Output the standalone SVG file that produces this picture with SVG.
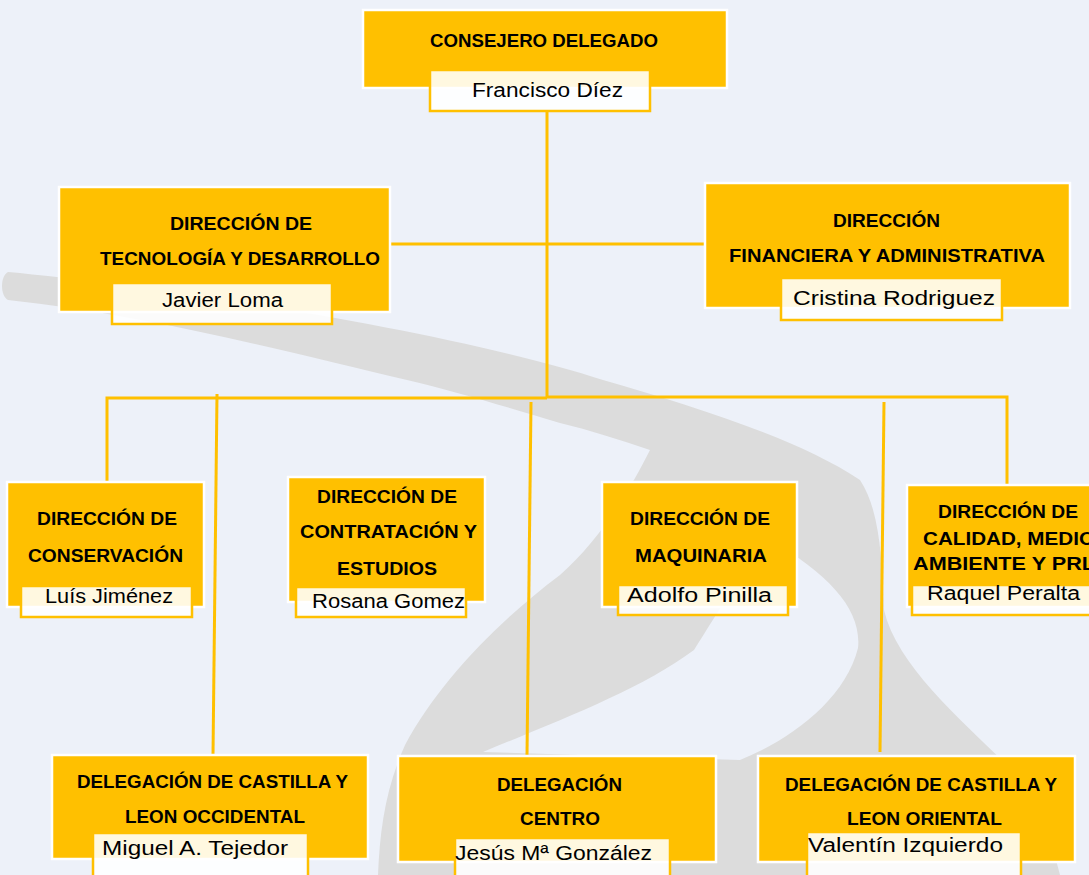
<svg xmlns="http://www.w3.org/2000/svg" width="1089" height="875" viewBox="0 0 1089 875">
<style>
.bg{fill:#EDF1F9}
.sw{fill:#DCDCDC;fill-rule:evenodd}
.box{fill:#FFC000;stroke:#FFFFFF;stroke-width:2.5}
.nb{fill:#FFFFFF;fill-opacity:0.88;stroke:#FFC000;stroke-width:2.5}
.t{font-family:"Liberation Sans",Arial,sans-serif;font-weight:bold;font-size:17.5px;fill:#000}
.n{font-family:"Liberation Sans",Arial,sans-serif;font-size:20px;fill:#000}
.c{fill:none;stroke:#FFC000;stroke-width:3}
</style>
<rect class="bg" x="0" y="0" width="1089" height="875"/>
<g id="swoosh">
<path class="sw" d="M8,272 C150,285 450,330 603,380 C700,408 800,440 860,480 C880,510 882,560 884,610 C900,680 1000,750 1040,800 L1060,875 L378,875 C380,830 385,790 405,745 C440,680 500,620 560,575 C600,540 630,490 650,450 C620,440 590,430 560,423 C500,405 450,390 407,380 C300,355 150,315 8,300 C0,296 0,276 8,272 Z M770,540 C830,575 862,610 858,648 C845,700 790,740 740,760 L483,752 C560,720 640,690 694,650 C720,610 745,565 770,540 Z"/>
</g>
<g id="connectors">
<path class="c" d="M547,111 V398"/>
<path class="c" d="M390,244 H705"/>
<path class="c" d="M107,482 V398 H547"/>
<path class="c" d="M547,397 H1007 V485"/>
<path class="c" d="M217,394 L213,755"/>
<path class="c" d="M531,402 L527,756"/>
<path class="c" d="M884,402 L880,752"/>
</g>
<g id="consejero">
<rect class="box" x="363" y="10" width="364" height="78"/>
<text class="t" x="430" y="47" textLength="228" lengthAdjust="spacingAndGlyphs">CONSEJERO DELEGADO</text>
<rect class="nb" x="430" y="70" width="220" height="41"/>
<text class="n" x="472" y="97" textLength="151" lengthAdjust="spacingAndGlyphs">Francisco Díez</text>
</g>
<g id="tecnologia">
<rect class="box" x="59" y="187" width="331" height="125"/>
<text class="t" x="170" y="230" textLength="142" lengthAdjust="spacingAndGlyphs">DIRECCIÓN DE</text>
<text class="t" x="100" y="265" textLength="280" lengthAdjust="spacingAndGlyphs">TECNOLOGÍA Y DESARROLLO</text>
<rect class="nb" x="112" y="283" width="220" height="41"/>
<text class="n" x="162" y="307" textLength="121" lengthAdjust="spacingAndGlyphs">Javier Loma</text>
</g>
<g id="financiera">
<rect class="box" x="705" y="183" width="365" height="125"/>
<text class="t" x="833" y="227" textLength="107" lengthAdjust="spacingAndGlyphs">DIRECCIÓN</text>
<text class="t" x="729" y="262" textLength="316" lengthAdjust="spacingAndGlyphs">FINANCIERA Y ADMINISTRATIVA</text>
<rect class="nb" x="781" y="278" width="221" height="42"/>
<text class="n" x="793" y="305" textLength="202" lengthAdjust="spacingAndGlyphs">Cristina  Rodriguez</text>
</g>
<g id="conservacion">
<rect class="box" x="7" y="482" width="197" height="125"/>
<text class="t" x="37" y="525" textLength="140" lengthAdjust="spacingAndGlyphs">DIRECCIÓN DE</text>
<text class="t" x="28" y="562" textLength="155" lengthAdjust="spacingAndGlyphs">CONSERVACIÓN</text>
<rect class="nb" x="21" y="586" width="171" height="31"/>
<text class="n" x="45" y="603" textLength="128" lengthAdjust="spacingAndGlyphs">Luís Jiménez</text>
</g>
<g id="contratacion">
<rect class="box" x="288" y="477" width="197" height="125"/>
<text class="t" x="317" y="503" textLength="140" lengthAdjust="spacingAndGlyphs">DIRECCIÓN DE</text>
<text class="t" x="300" y="538" textLength="177" lengthAdjust="spacingAndGlyphs">CONTRATACIÓN Y</text>
<text class="t" x="337" y="575" textLength="100" lengthAdjust="spacingAndGlyphs">ESTUDIOS</text>
<rect class="nb" x="296" y="587" width="170" height="30"/>
<text class="n" x="312" y="608" textLength="153" lengthAdjust="spacingAndGlyphs">Rosana Gomez</text>
</g>
<g id="maquinaria">
<rect class="box" x="602" y="482" width="195" height="125"/>
<text class="t" x="630" y="525" textLength="140" lengthAdjust="spacingAndGlyphs">DIRECCIÓN DE</text>
<text class="t" x="635" y="562" textLength="132" lengthAdjust="spacingAndGlyphs">MAQUINARIA</text>
<rect class="nb" x="618" y="585" width="170" height="30"/>
<text class="n" x="627" y="602" textLength="145" lengthAdjust="spacingAndGlyphs">Adolfo Pinilla</text>
</g>
<g id="calidad">
<rect class="box" x="907" y="485" width="200" height="122"/>
<text class="t" x="938" y="518" textLength="140" lengthAdjust="spacingAndGlyphs">DIRECCIÓN DE</text>
<text class="t" x="923" y="545" textLength="172" lengthAdjust="spacingAndGlyphs">CALIDAD, MEDIO</text>
<text class="t" x="913" y="570" textLength="182" lengthAdjust="spacingAndGlyphs">AMBIENTE  Y PRL</text>
<rect class="nb" x="912" y="585" width="190" height="30"/>
<text class="n" x="927" y="600" textLength="153" lengthAdjust="spacingAndGlyphs">Raquel Peralta</text>
</g>
<g id="occidental">
<rect class="box" x="52" y="755" width="316" height="104"/>
<text class="t" x="77" y="788" textLength="271" lengthAdjust="spacingAndGlyphs">DELEGACIÓN DE CASTILLA Y</text>
<text class="t" x="125" y="823" textLength="180" lengthAdjust="spacingAndGlyphs">LEON OCCIDENTAL</text>
<rect class="nb" x="93" y="833" width="215" height="50"/>
<text class="n" x="102" y="855" textLength="186" lengthAdjust="spacingAndGlyphs">Miguel A.  Tejedor</text>
</g>
<g id="centro">
<rect class="box" x="398" y="756" width="318" height="106"/>
<text class="t" x="497" y="791" textLength="125" lengthAdjust="spacingAndGlyphs">DELEGACIÓN</text>
<text class="t" x="520" y="825" textLength="80" lengthAdjust="spacingAndGlyphs">CENTRO</text>
<rect class="nb" x="455" y="838" width="215" height="50"/>
<text class="n" x="455" y="860" textLength="197" lengthAdjust="spacingAndGlyphs">Jesús Mª  González</text>
</g>
<g id="oriental">
<rect class="box" x="758" y="756" width="317" height="106"/>
<text class="t" x="785" y="791" textLength="272" lengthAdjust="spacingAndGlyphs">DELEGACIÓN DE CASTILLA Y</text>
<text class="t" x="847" y="825" textLength="155" lengthAdjust="spacingAndGlyphs">LEON ORIENTAL</text>
<rect class="nb" x="807" y="832" width="214" height="50"/>
<text class="n" x="808" y="852" textLength="195" lengthAdjust="spacingAndGlyphs">Valentín Izquierdo</text>
</g>
</svg>
